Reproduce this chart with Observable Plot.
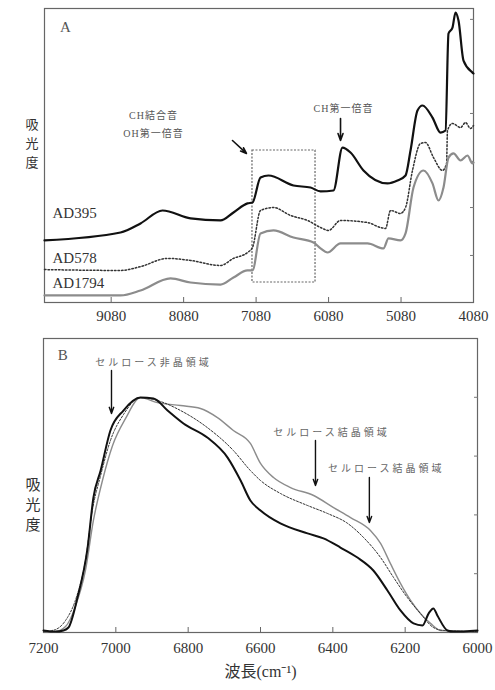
<!DOCTYPE html>
<html><head><meta charset="utf-8">
<script src="https://cdn.jsdelivr.net/npm/d3@7"></script>
<script src="https://cdn.jsdelivr.net/npm/@observablehq/plot@0.6"></script>
<style>body{margin:0;background:#fff} #c svg{display:block}</style>
</head><body><div id="c"></div>
<script>
// ---------- Panel A: NIR spectra ----------
const aTicks = [9080, 8080, 7080, 6080, 5080, 4080];
const aRightTicks = [0.963, 0.643, 0.48, 0.323, 0.16];
const aWn395 = [10000,8951,8675,8372,7985,7571,7392,7199,7130,7019,6909,6564,6329,6191,6012,5888,5777,5598,5267,5129,5018,4949,4853,4784,4646,4535,4466,4425,4370,4328,4287,4218,4094,4080];
const aAbs395 = [0.211,0.238,0.269,0.313,0.286,0.279,0.306,0.337,0.340,0.425,0.432,0.398,0.391,0.378,0.381,0.527,0.510,0.449,0.405,0.415,0.432,0.517,0.653,0.670,0.629,0.578,0.585,0.915,0.935,0.986,0.959,0.823,0.782,0.779];
const aWn578 = [10000,8951,8675,8303,7985,7571,7392,7199,7130,7019,6840,6605,6371,6191,6081,5915,5543,5363,5294,5225,5087,5018,4922,4811,4742,4632,4508,4452,4439,4370,4259,4190,4121,4080];
const aAbs578 = [0.112,0.109,0.122,0.150,0.143,0.126,0.150,0.170,0.187,0.313,0.323,0.296,0.279,0.255,0.245,0.279,0.272,0.255,0.252,0.313,0.303,0.323,0.449,0.541,0.544,0.493,0.449,0.473,0.585,0.609,0.595,0.612,0.592,0.602];
const aWn1794 = [10000,8951,8675,8261,7985,7571,7392,7199,7130,7019,6840,6564,6288,6191,6095,5915,5543,5322,5253,5087,5018,4908,4770,4646,4563,4494,4425,4356,4259,4163,4094,4080];
const aAbs1794 = [0.024,0.024,0.041,0.082,0.068,0.061,0.085,0.109,0.109,0.235,0.245,0.221,0.204,0.184,0.170,0.201,0.201,0.184,0.218,0.211,0.235,0.391,0.449,0.405,0.347,0.391,0.493,0.507,0.483,0.500,0.473,0.476];
const aSeriesLabels = ["AD395", "AD578", "AD1794"];
const aLabelWn = [9890, 9890, 9890];
const aLabelAbs = [0.303, 0.150, 0.065];
const aBox = {x1: 7130, x2: 6260, y1: 0.068, y2: 0.517};
const aNoteTexts = ["CH結合音", "OH第一倍音", "CH第一倍音"];
const aNoteWn = [8496, 8496, 5874];
const aNoteAbs = [0.636, 0.575, 0.660];
const aNoteAnchor = ["start", "start", "middle"];
const aArrowWn1 = [7406, 5915], aArrowAbs1 = [0.551, 0.626];
const aArrowWn2 = [7213, 5915], aArrowAbs2 = [0.507, 0.551];
const yLabelChars = ["吸", "光", "度"];
const aYLabelAbs = [0.606, 0.541, 0.476];

// ---------- Panel B: 7200-6000 cm-1 ----------
const bTicks = [7200, 7000, 6800, 6600, 6400, 6200, 6000];
const bRightTicks = [0.2, 0.4, 0.6, 0.8];
const bWn395 = [7200,7167,7145,7131,7106,7078,7062,7042,7015,6979,6932,6896,6857,6813,6747,6691,6655,6628,6600,6545,6470,6426,6379,6332,6288,6249,6213,6177,6152,6135,6122,6111,6083,6066,6000];
const bAbs395 = [0.007,0.003,0.007,0.017,0.119,0.289,0.459,0.551,0.687,0.755,0.799,0.796,0.755,0.711,0.663,0.595,0.517,0.449,0.415,0.371,0.337,0.320,0.289,0.255,0.211,0.143,0.075,0.031,0.024,0.065,0.082,0.058,0.007,0.003,0.007];
const bWn578 = [7200,7167,7139,7112,7084,7065,7042,7015,6979,6932,6885,6821,6747,6675,6628,6600,6545,6470,6415,6359,6315,6268,6232,6194,6158,6122,6094,6000];
const bAbs578 = [0.003,0.010,0.041,0.109,0.245,0.415,0.534,0.653,0.741,0.799,0.789,0.755,0.697,0.619,0.551,0.517,0.473,0.432,0.405,0.371,0.323,0.255,0.187,0.119,0.065,0.017,0.007,0.003];
const bWn1794 = [7200,7167,7139,7112,7084,7062,7037,7009,6973,6932,6885,6821,6766,6719,6675,6628,6600,6564,6517,6453,6398,6351,6296,6268,6241,6213,6185,6158,6130,6102,6000];
const bAbs1794 = [0.003,0.003,0.020,0.088,0.211,0.381,0.517,0.636,0.728,0.799,0.782,0.772,0.762,0.731,0.687,0.643,0.575,0.527,0.493,0.466,0.425,0.391,0.347,0.303,0.235,0.167,0.109,0.065,0.031,0.007,0.003];
const bNoteTexts = ["セルロース非晶領域", "セルロース結晶領域", "セルロース結晶領域"];
const bNoteWn = [6896, 6404, 6252];
const bNoteAbs = [0.918, 0.680, 0.558];
const bArrowWn = [7012, 6448, 6299];
const bArrowAbs1 = [0.891, 0.653, 0.527];
const bArrowAbs2 = [0.745, 0.500, 0.374];
const bYLabelAbs = [0.500, 0.432, 0.364];

const styles = {
  AD395: {stroke: "#111", strokeWidth: 2.2},
  AD578: {stroke: "#333", strokeWidth: 1.5, strokeDasharray: "1.5,2"},
  AD1794: {stroke: "#8c8c8c", strokeWidth: 2.2}
};
const stylesB = {
  AD395: {stroke: "#111", strokeWidth: 2},
  AD578: {stroke: "#333", strokeWidth: 1, strokeDasharray: "2,1.6"},
  AD1794: {stroke: "#8c8c8c", strokeWidth: 1.4}
};
const toRows = (wn, ab) => wn.map((w, i) => ({wn: w, abs: ab[i]}));
const serif = "Liberation Serif";
const cjk = "Noto Sans CJK JP";

const aSeries = {AD395: toRows(aWn395, aAbs395), AD578: toRows(aWn578, aAbs578), AD1794: toRows(aWn1794, aAbs1794)};
const bSeries = {AD395: toRows(bWn395, bAbs395), AD578: toRows(bWn578, bAbs578), AD1794: toRows(bWn1794, bAbs1794)};

const plotA = Plot.plot({
  width: 495, height: 330,
  marginLeft: 44, marginRight: 22, marginTop: 8, marginBottom: 28,
  style: {fontFamily: "Liberation Serif, Noto Sans CJK JP, serif", fontSize: "15px", color: "#444", background: "#fff"},
  x: {domain: [10000, 4080]},
  y: {domain: [0, 1]},
  marks: [
    Plot.frame({stroke: "#666", strokeWidth: 1.2}),
    Plot.axisX({ticks: aTicks, tickSize: -5, tickFormat: () => "", label: null, stroke: "#666"}),
    Plot.text(aTicks, {x: d => d, frameAnchor: "bottom", dy: 18, text: d => String(d), fontFamily: serif, fontSize: 15, fill: "#333"}),
    Plot.axisY({anchor: "right", ticks: aRightTicks, tickSize: -4, tickFormat: () => "", label: null, stroke: "#777"}),
    Plot.rect([aBox], {x1: "x1", x2: "x2", y1: "y1", y2: "y2", fill: "none", stroke: "#666", strokeWidth: 1.2, strokeDasharray: "2,1.5"}),
    ...aSeriesLabels.map(s => Plot.line(aSeries[s], {x: "wn", y: "abs", curve: "monotone-x", ...styles[s]})),
    Plot.text(aSeriesLabels, {x: (d, i) => aLabelWn[i], y: (d, i) => aLabelAbs[i], text: d => d, textAnchor: "start", fontSize: 15, fill: "#333"}),
    Plot.text(aNoteTexts, {x: (d, i) => aNoteWn[i], y: (d, i) => aNoteAbs[i], text: d => d, textAnchor: (d, i) => aNoteAnchor[i], fontSize: 10, fill: "#555"}),
    Plot.arrow(aArrowWn1, {x1: (d, i) => aArrowWn1[i], y1: (d, i) => aArrowAbs1[i], x2: (d, i) => aArrowWn2[i], y2: (d, i) => aArrowAbs2[i], stroke: "#111", strokeWidth: 1.6, headLength: 7, headAngle: 40}),
    Plot.text(["A"], {x: 9710, y: 0.935, text: d => d, fontSize: 15, fill: "#555"}),
    Plot.text(yLabelChars, {frameAnchor: "left", dx: -19, y: (d, i) => aYLabelAbs[i], text: d => d, fontFamily: cjk, fontSize: 13, fill: "#333"})
  ]
});

const plotB = Plot.plot({
  width: 495, height: 360,
  marginLeft: 43, marginRight: 18, marginTop: 8, marginBottom: 58,
  style: {fontFamily: "Liberation Serif, Noto Sans CJK JP, serif", fontSize: "15px", color: "#444", background: "#fff"},
  x: {domain: [7200, 6000]},
  y: {domain: [0, 1]},
  marks: [
    Plot.frame({stroke: "#666", strokeWidth: 1.2}),
    Plot.axisX({ticks: bTicks, tickSize: -5, tickFormat: () => "", label: null, stroke: "#666"}),
    Plot.text(bTicks, {x: d => d, frameAnchor: "bottom", dy: 20, text: d => String(d), fontFamily: serif, fontSize: 15, fill: "#333"}),
    Plot.axisY({anchor: "right", ticks: bRightTicks, tickSize: -4, tickFormat: () => "", label: null, stroke: "#777"}),
    ...["AD1794", "AD578", "AD395"].map(s => Plot.line(bSeries[s], {x: "wn", y: "abs", curve: "monotone-x", ...stylesB[s]})),
    Plot.text(bNoteTexts, {x: (d, i) => bNoteWn[i], y: (d, i) => bNoteAbs[i], text: d => d, fontFamily: cjk, fontSize: 10, fill: "#666"}),
    Plot.arrow(bArrowWn, {x1: (d, i) => bArrowWn[i], y1: (d, i) => bArrowAbs1[i], x2: (d, i) => bArrowWn[i], y2: (d, i) => bArrowAbs2[i], stroke: "#111", strokeWidth: 1.4, headLength: 7, headAngle: 40}),
    Plot.text(["B"], {x: 7147, y: 0.942, text: d => d, fontSize: 15, fill: "#555"}),
    Plot.text(yLabelChars, {frameAnchor: "left", dx: -18, y: (d, i) => bYLabelAbs[i], text: d => d, fontFamily: cjk, fontSize: 15, fill: "#333"}),
    Plot.text(["波長(cm⁻¹)"], {frameAnchor: "bottom", dy: 44, text: d => d, fontSize: 16, fill: "#333"})
  ]
});

d3.select(plotB).selectAll("text").filter(function() { return this.textContent.includes("セルロース"); }).attr("letter-spacing", "3px");
d3.select(plotA).selectAll("text").filter(function() { return /結合音|第一倍音/.test(this.textContent); }).attr("letter-spacing", "1px");

document.getElementById("c").append(plotA, plotB);
</script>
</body></html>
